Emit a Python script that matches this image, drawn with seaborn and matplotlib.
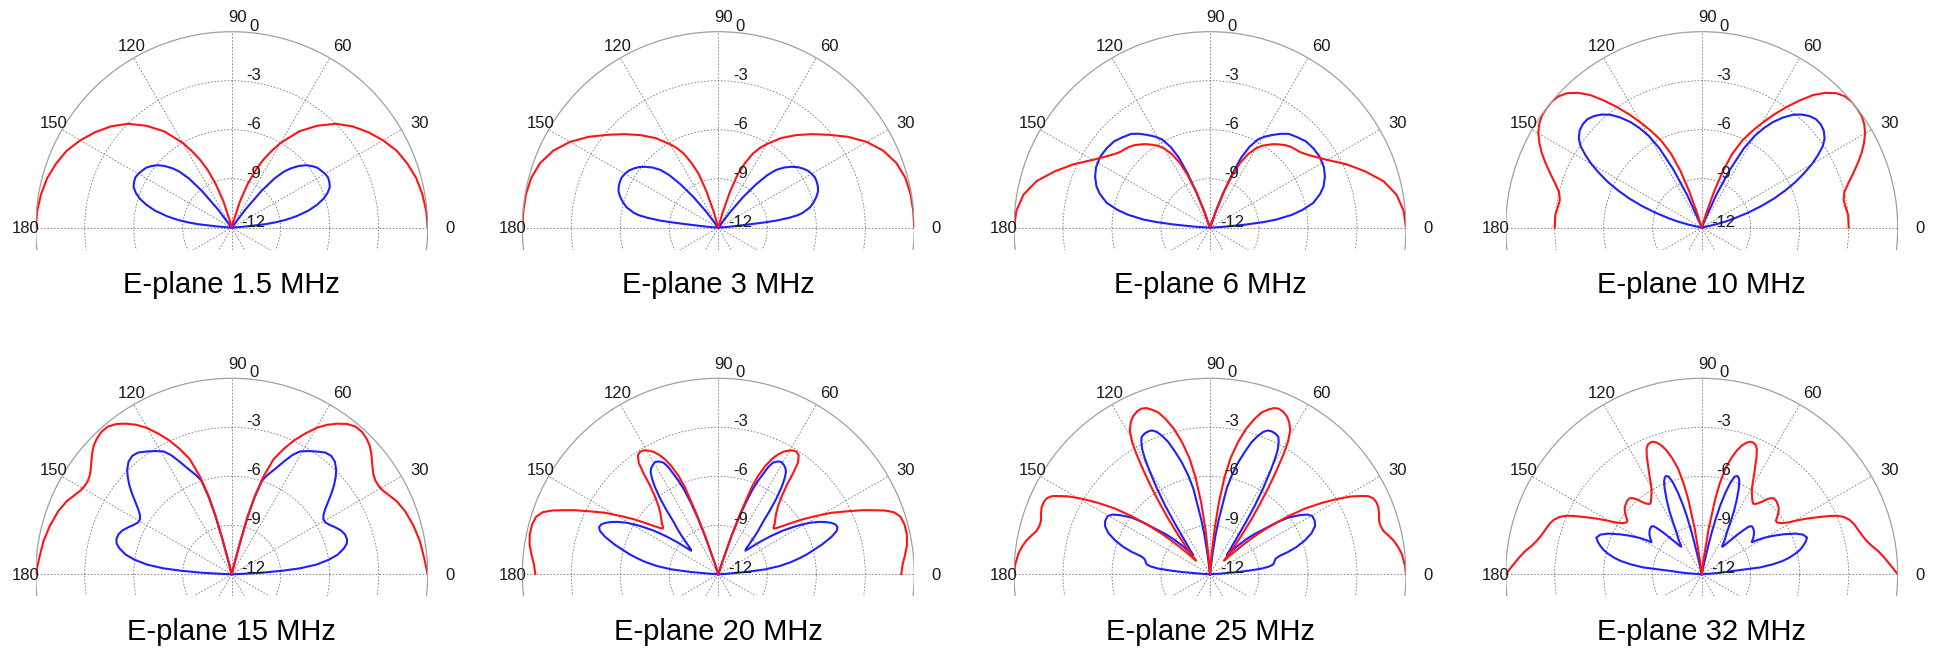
import numpy as np
import pandas as pd
import matplotlib
matplotlib.use("Agg")
import matplotlib.pyplot as plt
from matplotlib.patches import Rectangle
import seaborn as sns

# E-plane patterns: angle (deg) and level (dB); anything below -12 sits in the centre
freqs = ["1.5", "3", "6", "10", "15", "20", "25", "32"]

red_ang_1_5 = [0, 5, 10, 15, 20, 25, 30, 35, 40, 45, 50, 55, 60, 62.5, 65, 67.5, 70, 72.5, 75, 77,
               103, 105, 107.5, 110, 112.5, 115, 117.5, 120, 125, 130, 135, 140, 145, 150, 155, 160, 165, 170, 175, 180]
red_db_1_5 = [0, -0.05, -0.15, -0.3, -0.55, -0.85, -1.3, -1.8, -2.35, -3.0, -3.85, -4.8, -6.0, -6.7, -7.4, -8.2, -9.2, -10.3, -11.6, -13,
              -13, -11.6, -10.3, -9.2, -8.2, -7.4, -6.7, -6.0, -4.8, -3.85, -3.0, -2.35, -1.8, -1.3, -0.85, -0.55, -0.3, -0.15, -0.05, 0]
blue_ang_1_5 = [3, 4, 5, 6, 7, 8, 9, 10, 12.5, 15, 17.5, 20, 22.5, 25, 27.5, 30, 32.5, 35, 37.5, 40, 42.5, 45, 47, 49, 51, 53, 55, 56.5,
                123.5, 125, 127, 129, 131, 133, 135, 137.5, 140, 142.5, 145, 147.5, 150, 152.5, 155, 157.5, 160, 162.5, 165, 167.5, 170, 171, 172, 173, 174, 175, 176, 177]
blue_db_1_5 = [-13, -12.0, -11.0, -9.9, -9.3, -8.8, -8.4, -8.0, -7.2, -6.6, -6.1, -5.75, -5.5, -5.4, -5.35, -5.4, -5.5, -5.6, -5.8, -6.05, -6.4, -6.85, -7.3, -8.0, -9.1, -10.6, -12.2, -13,
               -13, -12.2, -10.6, -9.1, -8.0, -7.3, -6.85, -6.4, -6.05, -5.8, -5.6, -5.5, -5.4, -5.35, -5.4, -5.5, -5.75, -6.1, -6.6, -7.2, -8.0, -8.4, -8.8, -9.3, -9.9, -11.0, -12.0, -13]

red_ang_3 = [0, 5, 10, 15, 20, 25, 30, 35, 40, 45, 50, 55, 60, 62.5, 65, 67.5, 70, 72, 74, 76, 77.5,
             102.5, 104, 106, 108, 110, 112.5, 115, 117.5, 120, 125, 130, 135, 140, 145, 150, 155, 160, 165, 170, 175, 180]
red_db_3 = [0, -0.02, -0.05, -0.15, -0.4, -0.85, -1.5, -2.3, -3.15, -3.9, -4.6, -5.3, -6.1, -6.5, -7.0, -7.7, -8.5, -9.7, -11.0, -12.3, -13,
            -13, -12.3, -11.0, -9.7, -8.5, -7.7, -7.0, -6.5, -6.1, -5.3, -4.6, -3.9, -3.15, -2.3, -1.5, -0.85, -0.4, -0.15, -0.05, -0.02, 0]
blue_ang_3 = [3, 4, 5, 6, 6.5, 7, 8, 9, 10, 12.5, 15, 17.5, 20, 22.5, 25, 27.5, 30, 32.5, 35, 37.5, 40, 42.5, 45, 47, 49, 51, 53, 55, 56.5,
              123.5, 125, 127, 129, 131, 133, 135, 137.5, 140, 142.5, 145, 147.5, 150, 152.5, 155, 157.5, 160, 162.5, 165, 167.5, 170, 171, 172, 173, 173.5, 174, 175, 176, 177]
blue_db_3 = [-13, -12.2, -11.3, -10.3, -9.2, -8.4, -7.6, -7.05, -6.75, -6.25, -5.95, -5.7, -5.5, -5.4, -5.35, -5.33, -5.4, -5.5, -5.68, -5.9, -6.2, -6.55, -7.0, -7.6, -8.5, -9.6, -10.8, -12.0, -13,
             -13, -12.0, -10.8, -9.6, -8.5, -7.6, -7.0, -6.55, -6.2, -5.9, -5.68, -5.5, -5.4, -5.33, -5.35, -5.4, -5.5, -5.7, -5.95, -6.25, -6.75, -7.05, -7.6, -8.4, -9.2, -10.3, -11.3, -12.2, -13]

red_ang_6 = [0, 5, 10, 15, 20, 25, 30, 32.5, 35, 37.5, 40, 42.5, 45, 47.5, 50, 52.5, 55, 57.5, 60, 62.5, 65, 67, 69, 70.5, 72, 73.5,
             106.5, 108, 109.5, 111, 113, 115, 117.5, 120, 122.5, 125, 127.5, 130, 132.5, 135, 137.5, 140, 142.5, 145, 147.5, 150, 155, 160, 165, 170, 175, 180]
red_db_6 = [0, -0.1, -0.4, -1.0, -1.9, -2.8, -3.7, -4.05, -4.35, -4.6, -4.8, -4.9, -5.0, -5.15, -5.35, -5.55, -5.8, -6.05, -6.4, -6.9, -7.6, -8.5, -9.7, -10.9, -12.1, -13,
            -13, -12.1, -10.9, -9.7, -8.5, -7.6, -6.9, -6.4, -6.05, -5.8, -5.55, -5.35, -5.15, -5.0, -4.9, -4.8, -4.6, -4.35, -4.05, -3.7, -2.8, -1.9, -1.0, -0.4, -0.1, 0]
blue_ang_6 = [2, 3, 4, 5, 6, 7, 9, 11, 13.5, 17, 20, 24, 28, 33, 37.5, 42, 46, 50, 53, 56, 59, 61.5, 64, 66, 67.5, 69, 70.5, 72,
              108, 109.5, 111, 112.5, 114, 116, 118.5, 121, 124, 127, 130, 134, 138, 142.5, 147, 152, 156, 160, 163, 166.5, 169, 171, 173, 174, 175, 176, 177, 178]
blue_db_6 = [-13, -12.0, -11.0, -9.8, -8.7, -7.9, -6.9, -6.2, -5.5, -4.95, -4.6, -4.3, -4.1, -4.0, -4.02, -4.1, -4.3, -4.5, -4.8, -5.15, -5.5, -5.85, -6.5, -7.3, -8.4, -9.7, -11.0, -13,
             -13, -11.0, -9.7, -8.4, -7.3, -6.5, -5.85, -5.5, -5.15, -4.8, -4.5, -4.3, -4.1, -4.02, -4.0, -4.1, -4.3, -4.6, -4.95, -5.5, -6.2, -6.9, -7.9, -8.7, -9.8, -11.0, -12.0, -13]

red_ang_10 = [0, 5, 8, 11, 14, 17, 20, 22.5, 25, 27.5, 30, 32.5, 35, 37.5, 40, 42.5, 45, 47.5, 50, 52.5, 55, 57.5, 60, 62.5, 65, 67.5, 69.5, 71, 72.5, 74,
              106, 107.5, 109, 110.5, 112.5, 115, 117.5, 120, 122.5, 125, 127.5, 130, 132.5, 135, 137.5, 140, 142.5, 145, 147.5, 150, 152.5, 155, 157.5, 160, 163, 166, 169, 172, 175, 180]
red_db_10 = [-3.0, -3.0, -3.1, -3.15, -3.0, -2.6, -2.1, -1.65, -1.2, -0.8, -0.45, -0.2, -0.05, 0, 0, -0.1, -0.35, -0.8, -1.4, -2.2, -3.0, -3.8, -4.6, -5.35, -6.1, -7.1, -8.3, -9.6, -11.0, -12.5,
             -12.5, -11.0, -9.6, -8.3, -7.1, -6.1, -5.35, -4.6, -3.8, -3.0, -2.2, -1.4, -0.8, -0.35, -0.1, 0, 0, -0.05, -0.2, -0.45, -0.8, -1.2, -1.65, -2.1, -2.6, -3.0, -3.15, -3.1, -3.0, -3.0]
blue_ang_10 = [10, 11.5, 13, 14.5, 16, 18, 20, 22, 24, 26, 28, 30, 32, 34, 36, 38.5, 41, 43.5, 46, 48.5, 51, 53.5, 56, 58, 60, 62, 64, 66, 68, 70,
               110, 112, 114, 116, 118, 120, 122, 124, 126.5, 129, 131.5, 134, 136.5, 139, 141.5, 144, 146, 148, 150, 152, 154, 156, 158, 160, 162, 164, 165.5, 167, 168.5, 170]
blue_db_10 = [-13, -12.0, -11.2, -10.5, -9.9, -9.0, -8.1, -7.2, -6.4, -5.6, -4.9, -4.2, -3.6, -3.05, -2.7, -2.45, -2.35, -2.35, -2.5, -2.75, -3.1, -3.6, -4.2, -4.8, -5.5, -6.5, -8.0, -9.8, -11.5, -13,
              -13, -11.5, -9.8, -8.0, -6.5, -5.5, -4.8, -4.2, -3.6, -3.1, -2.75, -2.5, -2.35, -2.35, -2.45, -2.7, -3.05, -3.6, -4.2, -4.9, -5.6, -6.4, -7.2, -8.1, -9.0, -9.9, -10.5, -11.2, -12.0, -13]

red_ang_15 = [0, 5, 10, 15, 20, 24, 27, 29, 31, 33, 35, 37, 39, 41, 43, 45, 47.5, 50, 52.5, 55, 57.5, 60, 62.5, 65, 67.5, 70, 72, 73.5, 74.5, 75.2, 76, 77,
              103, 104, 104.8, 105.5, 106.5, 108, 110, 112.5, 115, 117.5, 120, 122.5, 125, 127.5, 130, 132.5, 135, 137, 139, 141, 143, 145, 147, 149, 151, 153, 156, 160, 165, 170, 175, 180]
red_db_15 = [0, -0.18, -0.3, -0.48, -0.7, -0.96, -1.25, -1.42, -1.5, -1.5, -1.4, -1.2, -0.95, -0.68, -0.45, -0.3, -0.18, -0.2, -0.4, -0.74, -1.15, -1.66, -2.3, -2.95, -3.7, -4.5, -5.7, -7.0, -8.3, -9.8, -11.3, -13,
             -13, -11.3, -9.8, -8.3, -7.0, -5.7, -4.5, -3.7, -2.95, -2.3, -1.66, -1.15, -0.74, -0.4, -0.2, -0.18, -0.3, -0.45, -0.68, -0.95, -1.2, -1.4, -1.5, -1.5, -1.42, -1.25, -0.96, -0.7, -0.48, -0.3, -0.18, 0]
blue_ang_15 = [1.5, 2.2, 3, 4, 5, 6.5, 8.5, 10.5, 13, 15, 17, 19.5, 22, 24.5, 27, 29, 31, 33, 35, 37, 39, 41, 43, 45, 47.5, 50, 52.5, 55, 58, 61, 63, 65, 67.5, 70, 72, 73.5, 74.5, 75.2, 76, 77,
               103, 104, 104.8, 105.5, 106.5, 108, 110, 112.5, 115, 117, 119, 122, 125, 127.5, 130, 132.5, 135, 137, 139, 141, 143, 145, 147, 149, 151, 153, 155.5, 158, 160.5, 163, 165, 167, 169.5, 171.5, 173.5, 175, 176, 177, 177.8, 178.5]
blue_db_15 = [-13, -11.5, -10.2, -8.9, -7.8, -6.8, -6.0, -5.4, -4.95, -4.7, -4.62, -4.65, -4.8, -5.05, -5.3, -5.45, -5.45, -5.3, -5.0, -4.6, -4.15, -3.7, -3.3, -2.95, -2.65, -2.53, -2.6, -2.83, -3.1, -3.4, -3.8, -4.35, -5.0, -5.5, -5.95, -7.1, -8.35, -9.85, -11.35, -13,
              -13, -11.35, -9.85, -8.35, -7.1, -5.95, -5.5, -5.0, -4.35, -3.8, -3.4, -3.1, -2.83, -2.6, -2.53, -2.65, -2.95, -3.3, -3.7, -4.15, -4.6, -5.0, -5.3, -5.45, -5.45, -5.3, -5.05, -4.8, -4.65, -4.62, -4.7, -4.95, -5.4, -6.0, -6.8, -7.8, -8.9, -10.2, -11.5, -13]

red_ang_20 = [0, 3, 6, 9, 12, 15, 17.5, 19.5, 21, 22.5, 24, 26, 28.5, 31, 33, 35, 37, 38.5, 39.5, 40.5, 42, 44, 46.5, 49, 51, 52.5, 53.5, 54.5, 56, 57.5, 59, 60.5, 62, 63.5, 65, 66.5, 68, 69, 70, 71, 72, 73,
              107, 108, 109, 110, 111, 112, 113.5, 115, 116.5, 118, 119.5, 121, 122.5, 124, 125.5, 126.5, 127.5, 129, 131, 133.5, 136, 138, 139.5, 140.5, 141.5, 143, 145, 147, 149, 151.5, 154, 156, 157.5, 159, 160.5, 162.5, 165, 168, 171, 174, 177, 180]
red_db_20 = [-0.8, -0.7, -0.5, -0.3, -0.2, -0.2, -0.3, -0.6, -1.1, -1.75, -2.35, -3.2, -4.1, -5.1, -5.8, -6.5, -7.1, -7.45, -7.6, -7.55, -7.35, -7.15, -6.85, -6.4, -5.8, -5.1, -4.3, -3.6, -3.2, -3.1, -3.15, -3.3, -3.5, -3.8, -4.2, -4.75, -5.5, -6.3, -7.9, -9.5, -11.2, -13,
             -13, -11.2, -9.5, -7.9, -6.3, -5.5, -4.75, -4.2, -3.8, -3.5, -3.3, -3.15, -3.1, -3.2, -3.6, -4.3, -5.1, -5.8, -6.4, -6.85, -7.15, -7.35, -7.55, -7.6, -7.45, -7.1, -6.5, -5.8, -5.1, -4.1, -3.2, -2.35, -1.75, -1.1, -0.6, -0.3, -0.2, -0.2, -0.3, -0.5, -0.7, -0.8]
blue_ang_20 = [2.5, 3.5, 4.8, 6, 7.7, 9.5, 11, 12.5, 14.2, 16, 18.3, 20, 21.5, 23, 24.5, 26, 27.5, 29.5, 31.8, 34, 36, 38, 39.5, 41, 42.5, 44.4, 46.5, 48, 49.5, 51, 52.5, 54, 55.3, 56.5, 57.5, 59, 60.7, 62.3, 63.9, 65, 66, 67, 68, 69, 70, 71, 72, 73,
               107, 108, 109, 110, 111, 112, 113, 114, 115, 116.1, 117.7, 119.3, 121, 122.5, 123.5, 124.7, 126, 127.5, 129, 130.5, 132, 133.5, 135.6, 137.5, 139, 140.5, 142, 144, 146, 148.2, 150.5, 152.5, 154, 155.5, 157, 158.5, 160, 161.7, 164, 165.8, 167.5, 169, 170.5, 172.3, 174, 175.2, 176.5, 177.5]
blue_db_20 = [-13, -11.6, -10.3, -9.1, -8.2, -7.5, -7.0, -6.5, -6.0, -5.4, -4.7, -4.3, -4.15, -4.2, -4.4, -4.7, -5.05, -5.6, -6.4, -7.2, -8.0, -8.8, -9.4, -9.8, -9.7, -9.3, -8.7, -8.25, -7.8, -7.0, -6.16, -5.4, -4.87, -4.5, -4.33, -4.2, -4.11, -4.2, -4.39, -4.75, -5.3, -5.8, -6.4, -7.3, -8.3, -9.6, -11.2, -13,
              -13, -11.2, -9.6, -8.3, -7.3, -6.4, -5.8, -5.3, -4.75, -4.39, -4.2, -4.11, -4.2, -4.33, -4.5, -4.87, -5.4, -6.16, -7.0, -7.8, -8.25, -8.7, -9.3, -9.7, -9.8, -9.4, -8.8, -8.0, -7.2, -6.4, -5.6, -5.05, -4.7, -4.4, -4.2, -4.15, -4.3, -4.7, -5.4, -6.0, -6.5, -7.0, -7.5, -8.2, -9.1, -10.3, -11.6, -13]

red_ang_25 = [0, 2.6, 6.2, 8.5, 10.5, 12.5, 14, 16, 17.7, 19.5, 21.8, 23.5, 25, 26.3, 27.3, 28.8, 30.5, 32.5, 34.7, 36.5, 38.5, 40, 41.5, 43, 44.2, 45.5, 47, 49, 51, 53,
              54.5, 56, 57.3, 58.5, 59.5, 60.9, 62.5, 64, 65.8, 67.5, 69, 70.5, 72.3, 74, 76, 78, 80, 81.5, 83, 84.3, 85.5, 86.5,
              93.5, 94.5, 95.7, 97, 98.5, 100, 102, 104, 106, 107.7, 109.5, 111, 112.5, 114.2, 116, 117.5, 119.1, 120.5, 121.5, 122.7, 124, 125.5,
              127, 129, 131, 133, 134.5, 135.8, 137, 138.5, 140, 141.5, 143.5, 145.3, 147.5, 149.5, 151.2, 152.7, 153.7, 155, 156.5, 158.2, 160.5, 162.3, 164, 166, 167.5, 169.5, 171.5, 173.8, 177.4, 180]
red_db_25 = [0, -0.05, -0.2, -0.38, -0.58, -0.85, -1.05, -1.15, -1.14, -1.02, -0.9, -0.9, -0.98, -1.2, -1.55, -2.1, -2.88, -3.85, -4.93, -6.0, -7.2, -8.1, -9.1, -10.1, -10.8, -10.6, -10.3, -9.7, -8.9, -7.8,
             -6.8, -5.6, -4.5, -3.4, -2.6, -1.9, -1.5, -1.25, -1.08, -1.02, -1.1, -1.3, -1.6, -2.1, -2.8, -3.7, -4.8, -6.0, -7.6, -9.3, -11.0, -13,
             -13, -11.0, -9.3, -7.6, -6.0, -4.8, -3.7, -2.8, -2.1, -1.6, -1.3, -1.1, -1.02, -1.08, -1.25, -1.5, -1.9, -2.6, -3.4, -4.5, -5.6, -6.8,
             -7.8, -8.9, -9.7, -10.3, -10.6, -10.8, -10.1, -9.1, -8.1, -7.2, -6.0, -4.93, -3.85, -2.88, -2.1, -1.55, -1.2, -0.98, -0.9, -0.9, -1.02, -1.14, -1.15, -1.05, -0.85, -0.58, -0.38, -0.2, -0.05, 0]
blue_ang_25 = [2.5, 3.5, 4.7, 5.5, 6.3, 7.5, 8.7, 10.5, 12, 13.5, 14.8, 15.9, 17.5, 19.7, 22, 24.7, 27, 29.7, 31.5, 33.5, 35.9, 37.8, 39.7, 42, 44, 46, 48.7, 50.5, 52, 54,
               55.5, 56.9, 58.3, 59.6, 60.6, 61.5, 62.5, 63.5, 65, 66.7, 68, 69.5, 71, 72.5, 74, 75.8, 77.5, 79, 80.9, 82, 83, 84.5,
               95.5, 97, 98, 99.1, 101, 102.5, 104.2, 106, 107.5, 109, 110.5, 112, 113.3, 115, 116.5, 117.5, 118.5, 119.4, 120.4, 121.7, 123.1, 124.5,
               126, 128, 129.5, 131.3, 134, 136, 138, 140.3, 142.2, 144.1, 146.5, 148.5, 150.3, 153, 155.3, 158, 160.3, 162.5, 164.1, 165.2, 166.5, 168, 169.5, 171.3, 172.5, 173.7, 174.5, 175.3, 176.5, 177.5]
blue_db_25 = [-13, -11.5, -10.26, -9.5, -8.82, -8.35, -8.1, -8.0, -7.95, -7.85, -7.6, -7.05, -6.45, -5.82, -5.3, -4.92, -4.8, -4.79, -5.0, -5.45, -6.08, -6.8, -7.62, -8.3, -8.9, -9.6, -10.45, -10.1, -9.8, -9.05,
              -8.1, -6.96, -5.8, -4.73, -3.9, -3.3, -2.9, -2.61, -2.5, -2.47, -2.5, -2.69, -3.05, -3.51, -4.15, -4.91, -5.75, -6.66, -8.6, -9.6, -10.8, -13,
              -13, -10.8, -9.6, -8.6, -6.66, -5.75, -4.91, -4.15, -3.51, -3.05, -2.69, -2.5, -2.47, -2.5, -2.61, -2.9, -3.3, -3.9, -4.73, -5.8, -6.96, -8.1,
              -9.05, -9.8, -10.1, -10.45, -9.6, -8.9, -8.3, -7.62, -6.8, -6.08, -5.45, -5.0, -4.79, -4.8, -4.92, -5.3, -5.82, -6.45, -7.05, -7.6, -7.85, -7.95, -8.0, -8.1, -8.35, -8.82, -9.5, -10.26, -11.5, -13]

red_ang_32 = [0, 2.2, 5.4, 7.5, 9.4, 11.5, 13.7, 16, 18.4, 20.2, 22, 23.3, 24.4, 26, 27.9, 29.5, 31.2, 33, 34.5, 35.8, 37.2, 39, 40.7, 42.2, 44.3, 46.4, 47.8, 49, 50.2, 51.5,
              52.8, 54, 55.2, 56.5, 58, 59.5, 60.8, 62.3, 63.8, 65, 66.3, 67.5, 68.8, 70, 71.3, 72.7, 74.1, 75.7, 77.4, 78.7, 79.8, 81.3, 82.7, 83.7, 84.5,
              95.5, 96.3, 97.3, 98.7, 100.2, 101.3, 102.6, 104.3, 105.9, 107.3, 108.7, 110, 111.2, 112.5, 113.7, 115, 116.2, 117.7, 119.2, 120.5,
              122, 123.5, 124.8, 126, 127.2, 128.5, 129.8, 131, 132.2, 133.6, 135.7, 137.8, 139.3, 141, 142.8, 144.2, 145.5, 147, 148.8, 150.5,
              152.1, 154, 155.6, 156.7, 158, 159.8, 161.6, 164, 166.3, 168.5, 170.6, 172.5, 174.6, 177.8, 180]
red_db_32 = [0, -0.34, -0.8, -1.1, -1.43, -1.7, -1.9, -2.05, -2.19, -2.35, -2.62, -2.95, -3.35, -4.0, -4.71, -5.3, -5.89, -6.25, -6.4, -6.4, -6.2, -5.95, -5.78, -5.7, -5.6, -5.58, -5.7, -5.91, -6.2, -6.44,
             -6.6, -6.65, -6.55, -6.4, -6.2, -5.95, -5.6, -5.1, -4.56, -4.05, -3.6, -3.4, -3.34, -3.36, -3.5, -3.75, -4.1, -4.65, -5.37, -6.3, -7.29, -9.17, -11.03, -12.2, -13,
             -13, -12.2, -11.03, -9.17, -7.29, -6.3, -5.37, -4.65, -4.1, -3.75, -3.5, -3.36, -3.34, -3.4, -3.6, -4.05, -4.56, -5.1, -5.6, -5.95,
             -6.2, -6.4, -6.55, -6.65, -6.6, -6.44, -6.2, -5.91, -5.7, -5.58, -5.6, -5.7, -5.78, -5.95, -6.2, -6.4, -6.4, -6.25, -5.89, -5.3,
             -4.71, -4.0, -3.35, -2.95, -2.62, -2.35, -2.19, -2.05, -1.9, -1.7, -1.43, -1.1, -0.8, -0.34, 0]
blue_ang_32 = [2.5, 3.5, 4.5, 5.3, 6, 6.7, 8, 9.3, 10.6, 12.5, 14, 15.6, 17.4, 19.2, 21.4, 23.5, 26, 28.2, 30.4, 31.6, 32.5, 33.5, 35, 37, 39, 41, 43, 44.5, 45.5, 46.5,
               48, 49.5, 51, 52.3, 53.4, 54.5, 56, 57.5, 59, 61, 62.8, 64.7, 66.6, 68, 69.2, 70.2, 71.4, 72.6, 73.8, 74.9, 75.7, 76.3, 76.9, 77.6, 78.5,
               101.5, 102.4, 103.1, 103.7, 104.3, 105.1, 106.2, 107.4, 108.6, 109.8, 110.8, 112, 113.4, 115.3, 117.2, 119, 121, 122.5, 124, 125.5,
               126.6, 127.7, 129, 130.5, 132, 133.5, 134.5, 135.5, 137, 139, 141, 143, 145, 146.5, 147.5, 148.4, 149.6, 151.8, 154, 156.5,
               158.6, 160.8, 162.6, 164.4, 166, 167.5, 169.4, 170.7, 172, 173.3, 174, 174.7, 175.5, 176.5, 177.5]
blue_db_32 = [-13, -11.9, -11.0, -10.6, -10.23, -8.4, -7.6, -7.0, -6.58, -6.1, -5.8, -5.56, -5.33, -5.17, -5.34, -5.75, -6.41, -7.0, -7.6, -8.0, -8.35, -8.3, -8.15, -8.0, -7.88, -7.8, -7.75, -7.78, -7.95, -8.25,
              -8.75, -9.2, -9.55, -9.8, -9.9, -9.8, -9.5, -9.25, -9.0, -8.4, -7.71, -7.0, -6.29, -5.85, -5.65, -5.6, -5.7, -6.12, -6.8, -7.62, -8.4, -9.1, -9.9, -11.0, -13,
              -13, -11.0, -9.9, -9.1, -8.4, -7.62, -6.8, -6.12, -5.7, -5.6, -5.65, -5.85, -6.29, -7.0, -7.71, -8.4, -9.0, -9.25, -9.5, -9.8,
              -9.9, -9.8, -9.55, -9.2, -8.75, -8.25, -7.95, -7.78, -7.75, -7.8, -7.88, -8.0, -8.15, -8.3, -8.35, -8.0, -7.6, -7.0, -6.41, -5.75,
              -5.34, -5.17, -5.33, -5.56, -5.8, -6.1, -6.58, -7.0, -7.6, -8.4, -10.23, -10.6, -11.0, -11.9, -13]

panels = [
    (red_ang_1_5, red_db_1_5, blue_ang_1_5, blue_db_1_5),
    (red_ang_3, red_db_3, blue_ang_3, blue_db_3),
    (red_ang_6, red_db_6, blue_ang_6, blue_db_6),
    (red_ang_10, red_db_10, blue_ang_10, blue_db_10),
    (red_ang_15, red_db_15, blue_ang_15, blue_db_15),
    (red_ang_20, red_db_20, blue_ang_20, blue_db_20),
    (red_ang_25, red_db_25, blue_ang_25, blue_db_25),
    (red_ang_32, red_db_32, blue_ang_32, blue_db_32),
]

theta_labels = [0, 30, 60, 90, 120, 150, 180]
r_labels = [0, -3, -6, -9, -12]

sns.set_theme(style="white")
plt.rcParams["font.family"] = ["Liberation Sans", "DejaVu Sans"]

W, H = 1937, 649
fig = plt.figure(figsize=(W / 100, H / 100), dpi=100)

col_x = [231.7, 718.3, 1210, 1701.7]   # centre of each polar plot, px from left
row_y = [227.7, 574.3]                 # px from top
R = 196
title_base = [293, 640]
# label offsets (px) from the outer ring, MATLAB-like placement
t_off = [(22, -1), (18, 6), (13, 11.5), (5.5, 14), (-2.5, 11.5), (-8, 6), (-10, -1)]

for i, (ra, rd, ba, bd) in enumerate(panels):
    cx, cy = col_x[i % 4], row_y[i // 4]
    ax = fig.add_axes([(cx - R) / W, (H - cy - R) / H, 2 * R / W, 2 * R / H], projection="polar")
    ax.patch.set_facecolor("none")

    df = pd.concat([
        pd.DataFrame({"ang": ba, "db": bd, "curve": "blue"}),
        pd.DataFrame({"ang": ra, "db": rd, "curve": "red"}),
    ], ignore_index=True)
    df["theta"] = np.deg2rad(df["ang"])
    df["r"] = df["db"].clip(-12, 0)

    sns.lineplot(data=df, x="theta", y="r", hue="curve", hue_order=["blue", "red"],
                 palette={"blue": "#1f1fff", "red": "#ff1414"}, sort=False, estimator=None,
                 legend=False, linewidth=1.5, ax=ax)
    ax.set_xlabel("")
    ax.set_ylabel("")
    ax.set_xlim(0, 2 * np.pi)
    ax.set_ylim(-12, 0)

    ax.set_xticks(np.deg2rad(np.arange(0, 360, 30)))
    ax.set_xticklabels([])
    ax.set_yticks([-9, -6, -3])
    ax.set_yticklabels([])
    ax.grid(True, color="#7a7a7a", linestyle=(0, (2, 2)), linewidth=0.6)
    ax.spines["polar"].set_color("#a0a0a0")
    ax.spines["polar"].set_linewidth(0.9)

    # the circle is cut a little below the 0-180 line
    clip = Rectangle((0, 0.5 - 22 / (2 * R)), 1, 1, transform=ax.transAxes)
    for gl in ax.xaxis.get_gridlines() + ax.yaxis.get_gridlines():
        gl.set_clip_path(clip)
    ax.spines["polar"].set_clip_path(clip)

    for ang, (dx, dy) in zip(theta_labels, t_off):
        ax.annotate(str(ang), xy=(np.deg2rad(ang), 0), xytext=(dx, dy), textcoords="offset pixels",
                    ha="center", va="center", fontsize=12, color="#1a1a1a", annotation_clip=False)
    for rv in r_labels:
        ax.annotate(str(rv), xy=(np.pi / 2, rv), xytext=(22, 5.5), textcoords="offset pixels",
                    ha="center", va="center", fontsize=12, color="#1a1a1a", annotation_clip=False)

    fig.text(cx / W, 1 - title_base[i // 4] / H, f"E-plane {freqs[i]} MHz",
             ha="center", va="baseline", fontsize=21, color="black")

fig.savefig("out.png", dpi=100)
